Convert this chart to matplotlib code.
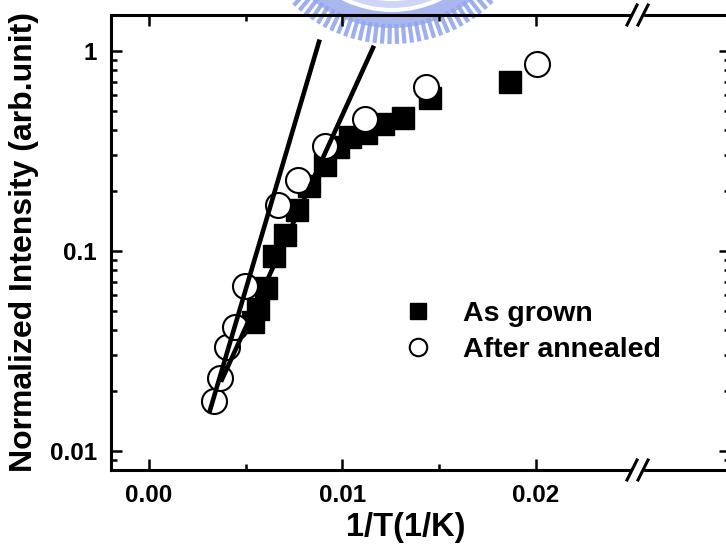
import numpy as np
import matplotlib.pyplot as plt
from matplotlib import ticker
from matplotlib.patches import Wedge, Rectangle

plt.rcParams['font.family'] = ['Liberation Sans', 'DejaVu Sans']
plt.rcParams['font.weight'] = 'bold'
plt.rcParams['axes.labelweight'] = 'bold'

# -----------------------------------------------------------------------------
# data
# -----------------------------------------------------------------------------
grown_x = [0.00537, 0.00563, 0.00605, 0.00646, 0.00703, 0.00765, 0.00827,
           0.00910, 0.00977, 0.01039, 0.01121, 0.01209, 0.01313, 0.01452, 0.01866]
grown_y = [0.044, 0.051, 0.065, 0.094, 0.12, 0.16, 0.21,
           0.27, 0.33, 0.37, 0.39, 0.43, 0.46, 0.58, 0.70]

annealed_x = [0.00336, 0.00367, 0.00403, 0.00444, 0.00496, 0.00667,
              0.00770, 0.00910, 0.01116, 0.01432, 0.02005]
annealed_y = [0.0178, 0.0232, 0.0331, 0.0417, 0.0668, 0.170,
              0.226, 0.335, 0.457, 0.661, 0.861]

# straight fits drawn on the plot (end points)
fit1_x = [0.00315, 0.00879]
fit1_y = [0.0159, 1.11]
fit2_x = [0.00377, 0.01158]
fit2_y = [0.0227, 1.035]

x_ticks = [0.0, 0.01, 0.02]
x_tick_labels = ['0.00', '0.01', '0.02']
x_minor = [0.005, 0.015]
y_ticks = [0.01, 0.1, 1]
y_tick_labels = ['0.01', '0.1', '1']

labels = ['As grown', 'After annealed']

x_min, x_max = -0.00196, 0.03003
y_min, y_max = 0.00803, 1.51
x_break = 0.02525

# -----------------------------------------------------------------------------
# figure
# -----------------------------------------------------------------------------
W, H = 726, 548
fig = plt.figure(figsize=(W / 100, H / 100), dpi=100)
fig.patch.set_facecolor('white')

# faint logo watermark behind the plot
bg = fig.add_axes([0, 0, 1, 1], zorder=-1)
bg.set_xlim(0, W)
bg.set_ylim(H, 0)
bg.axis('off')
wm = '#93a6ea'
cx, cy = 392, -100
bg.add_patch(Wedge((cx, cy), 128, 40, 140, width=16, color=wm, alpha=0.8, lw=0))
bg.add_patch(Wedge((cx, cy), 108, 40, 140, width=7, color=wm, alpha=0.45, lw=0))
for th in np.deg2rad(np.arange(46, 135, 3.0)):
    bg.plot([cx + 124 * np.cos(th), cx + 144 * np.cos(th)],
            [cy + 124 * np.sin(th), cy + 144 * np.sin(th)],
            color=wm, lw=3.0, alpha=0.9, solid_capstyle='butt')

ax = fig.add_axes([111 / W, 78 / H, 619 / W, 455 / H])
ax.set_facecolor('none')

ax.plot(grown_x, grown_y, ls='none', marker='s', ms=16.5, color='black',
        zorder=3, label=labels[0])
ax.plot(annealed_x, annealed_y, ls='none', marker='o', ms=18, mfc='white',
        mec='black', mew=1.5, zorder=4, label=labels[1])
ax.plot(fit1_x, fit1_y, color='black', lw=3.3, zorder=5)
ax.plot(fit2_x, fit2_y, color='black', lw=3.3, zorder=5)

ax.set_yscale('log')
ax.set_xlim(x_min, x_max)
ax.set_ylim(y_min, y_max)

ax.xaxis.set_major_locator(ticker.FixedLocator(x_ticks))
ax.xaxis.set_major_formatter(ticker.FixedFormatter(x_tick_labels))
ax.xaxis.set_minor_locator(ticker.FixedLocator(x_minor))
ax.yaxis.set_major_locator(ticker.FixedLocator(y_ticks))
ax.yaxis.set_major_formatter(ticker.FixedFormatter(y_tick_labels))
ax.yaxis.set_minor_locator(ticker.LogLocator(subs=np.arange(2, 10), numticks=20))
ax.yaxis.set_minor_formatter(ticker.NullFormatter())

ax.tick_params(which='both', direction='in', top=True, right=True, width=1.8)
ax.tick_params(which='major', length=8, labelsize=17.5, pad=10)
ax.tick_params(which='minor', length=4.5)
for s in ax.spines.values():
    s.set_linewidth(2.2)

ax.set_xlabel('1/T(1/K)', fontsize=23.5, fontweight='bold')
ax.xaxis.set_label_coords((406 - 111) / 619, -0.093)
ax.set_ylabel('Normalized Intensity (arb.unit)', fontsize=23,
              fontweight='bold', labelpad=8)

# axis break marks "//" on top and bottom spines
px = (x_max - x_min) / 619.0
trans = ax.get_xaxis_transform()
hy = 10 / 455.0
for yb in (0.0, 1.0):
    ax.add_patch(Rectangle((x_break - 5.5 * px, yb - hy), 11 * px, 2 * hy,
                           transform=trans, color='white', clip_on=False, zorder=6))
    for off in (-5.5, 5.5):
        ax.plot([x_break + (off - 5) * px, x_break + (off + 5) * px],
                [yb - hy, yb + hy], transform=trans, color='black', lw=2.2,
                clip_on=False, zorder=7)

leg = ax.legend(loc='center left', bbox_to_anchor=(406.6 / W, (H - 332) / H),
                bbox_transform=fig.transFigure, frameon=False, fontsize=20.5,
                markerscale=0.7, handlelength=0.8, handletextpad=1.18,
                borderpad=0, borderaxespad=0, labelspacing=0.35)

fig.savefig('out.png', dpi=100)
